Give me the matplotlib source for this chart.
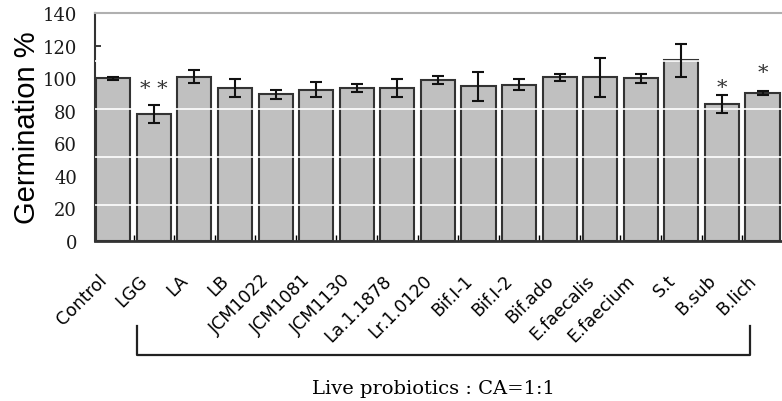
import matplotlib.pyplot as plt
import matplotlib.transforms as mtransforms
import numpy as np

labels = ["Control", "LGG", "LA", "LB", "JCM1022", "JCM1081", "JCM1130",
          "La.1.1878", "Lr.1.0120", "Bif.I-1", "Bif.I-2", "Bif.ado",
          "E.faecalis", "E.faecium", "S.t", "B.sub", "B.lich"]
germination = [100, 78, 101, 94, 90, 93, 94, 94, 99, 95, 96, 100.5,
               100.5, 100, 111, 84, 91]
errors = [1, 5.5, 4, 5.7, 2.7, 4.5, 2.7, 5.7, 2.5, 9, 3.5, 2.2,
          12, 2.7, 10, 5.5, 1.2]
star_labels = {1: "* *", 15: "*", 16: "*"}
star_heights = {1: 93.5, 15: 94, 16: 103.5}

x = np.arange(len(labels))

fig = plt.figure(figsize=(7.82, 4.02), dpi=100)
ax = fig.add_axes([0.1215, 0.398, 0.8785, 0.567])

ax.bar(x, germination, width=0.84, color="#c0c0c0", edgecolor="#333333",
       linewidth=1.5, zorder=2)
ax.errorbar(x, germination, yerr=errors, fmt="none", ecolor="#111111",
            elinewidth=1.5, capsize=4, capthick=1.5, zorder=4)

# faint white scan lines across the plot, as in the original picture
for yy in [110.7, 81, 51.7, 21.9]:
    ax.axhline(yy, color="white", linewidth=1.2, zorder=3)

for i, s in star_labels.items():
    ax.text(i, star_heights[i], s, ha="center", va="center",
            family="DejaVu Serif", fontsize=15, color="#333333", zorder=5)

ax.set_xlim(-0.45, 16.48)
ax.set_ylim(0, 140)
ax.set_yticks(range(0, 141, 20))
ax.tick_params(axis="y", direction="in", length=4, width=1.2, pad=13,
               labelsize=13, colors="#1a1a1a")
for t in ax.get_yticklabels():
    t.set_family("DejaVu Serif")

ax.set_xticks(x)
ax.set_xticklabels(labels, rotation=45, ha="right", va="center",
                   rotation_mode="anchor", fontsize=12.5, family="DejaVu Sans")
ax.tick_params(axis="x", length=0, pad=26)
shift = mtransforms.ScaledTranslation(-9 / 100, 0, fig.dpi_scale_trans)
for t in ax.get_xticklabels():
    t.set_transform(t.get_transform() + shift)
ax.set_xticks(x[:-1] + 0.5, minor=True)
ax.tick_params(axis="x", which="minor", direction="in", length=4, width=1)

ax.set_ylabel("Germination %", fontsize=21, family="Liberation Sans",
              labelpad=1)

ax.spines["right"].set_visible(False)
ax.spines["top"].set_color("#b0b0b0")
ax.spines["top"].set_linewidth(1.5)
ax.spines["left"].set_linewidth(1.5)
ax.spines["left"].set_color("#333333")
ax.spines["bottom"].set_linewidth(2)
ax.spines["bottom"].set_color("#333333")

# bracket under the probiotic labels
trans = ax.get_xaxis_transform()
ax.plot([0.59, 0.59, 15.69, 15.69], [-0.375, -0.5, -0.5, -0.375],
        transform=trans, color="#222222", linewidth=1.6, clip_on=False)
ax.text(7.9, -0.645, "Live probiotics : CA=1:1", transform=trans,
        ha="center", va="center", family="DejaVu Serif", fontsize=14)

fig.savefig("out.png", dpi=100)
